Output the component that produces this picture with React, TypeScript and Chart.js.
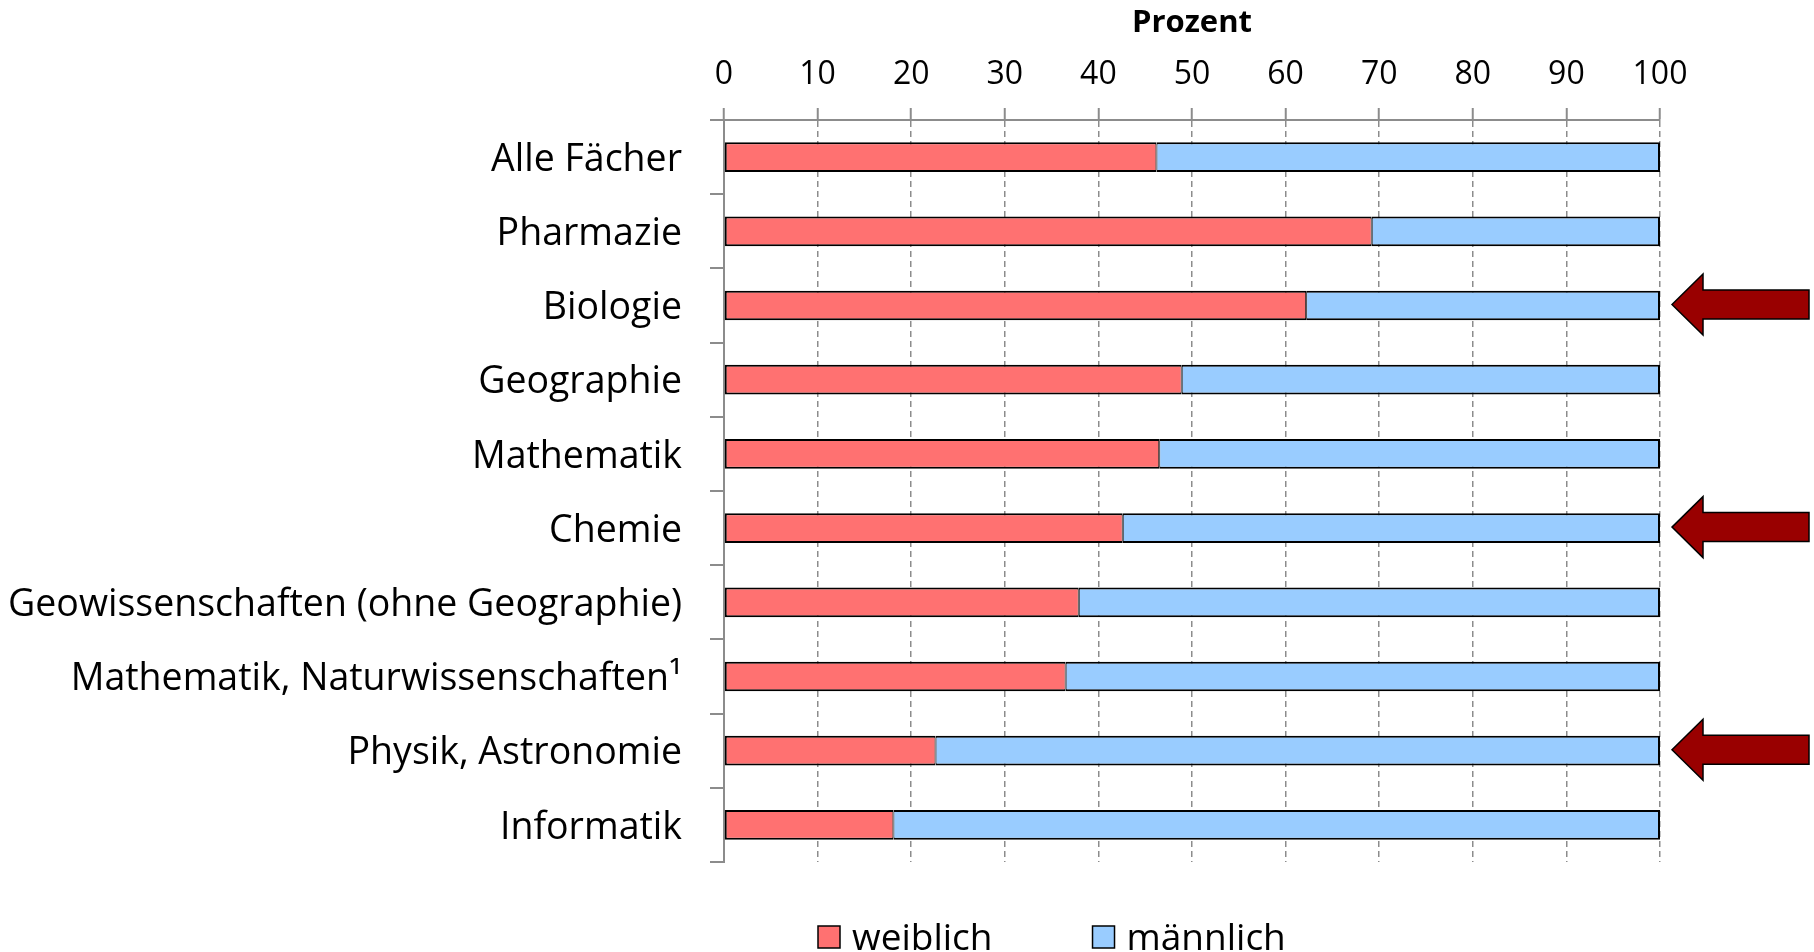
import { useEffect, useRef } from "react";
import { Chart, registerables } from "chart.js";

Chart.register(...registerables);

const categories = [
  "Alle Fächer",
  "Pharmazie",
  "Biologie",
  "Geographie",
  "Mathematik",
  "Chemie",
  "Geowissenschaften (ohne Geographie)",
  "Mathematik, Naturwissenschaften¹",
  "Physik, Astronomie",
  "Informatik",
];
const weiblich = [46.2, 69.2, 62.2, 48.9, 46.5, 42.6, 37.9, 36.5, 22.6, 18.1];
const maennlich = [53.8, 30.8, 37.8, 51.1, 53.5, 57.4, 62.1, 63.5, 77.4, 81.9];
const highlighted = ["Biologie", "Chemie", "Physik, Astronomie"];
const axisTitle = "Prozent";
const seriesNames = ["weiblich", "männlich"];

const FONT = "'Open Sans', 'Noto Sans', sans-serif";
const RED = "#FF7171";
const BLUE = "#99CCFF";
const GRID = "#8c8c8c";

const arrowPlugin = {
  id: "arrows",
  afterDraw(chart: any) {
    const { ctx, chartArea, scales } = chart;
    const y = scales.y;
    const R = chartArea.right;
    ctx.save();
    highlighted.forEach((name) => {
      const i = categories.indexOf(name);
      if (i < 0) return;
      const cy = y.getPixelForValue(i) - 1;
      ctx.beginPath();
      ctx.moveTo(R + 12, cy);
      ctx.lineTo(R + 43, cy - 30.5);
      ctx.lineTo(R + 43, cy - 14.5);
      ctx.lineTo(R + 149, cy - 14.5);
      ctx.lineTo(R + 149, cy + 14.5);
      ctx.lineTo(R + 43, cy + 14.5);
      ctx.lineTo(R + 43, cy + 30.5);
      ctx.closePath();
      ctx.fillStyle = "#990000";
      ctx.fill();
      ctx.lineWidth = 1.5;
      ctx.strokeStyle = "#000";
      ctx.lineJoin = "miter";
      ctx.stroke();
    });
    ctx.restore();
  },
};

const legendPlugin = {
  id: "customLegend",
  afterDraw(chart: any) {
    const { ctx } = chart;
    const cy = 939;
    const box = 22;
    let x = 818;
    ctx.save();
    ctx.font = `37px ${FONT}`;
    ctx.textBaseline = "middle";
    ctx.textAlign = "left";
    chart.data.datasets.forEach((ds: any) => {
      ctx.fillStyle = ds.backgroundColor;
      ctx.fillRect(x, cy - box / 2 - 2, box, box);
      ctx.lineWidth = 1.5;
      ctx.strokeStyle = "#000";
      ctx.strokeRect(x, cy - box / 2 - 2, box, box);
      ctx.fillStyle = "#000";
      ctx.fillText(ds.label, x + box + 12, cy);
      const w = ctx.measureText(ds.label).width;
      x += box + 12 + w + 100;
    });
    ctx.restore();
  },
};

export default function App() {
  const ref = useRef<HTMLCanvasElement>(null);
  useEffect(() => {
    document.body.style.margin = "0";
    const chart = new Chart(ref.current as HTMLCanvasElement, {
      type: "bar",
      data: {
        labels: categories,
        datasets: [
          {
            label: seriesNames[0],
            data: weiblich,
            backgroundColor: RED,
            borderColor: "#000",
            borderWidth: { top: 2, bottom: 2, left: 2, right: 1 },
            borderSkipped: false,
            categoryPercentage: 1,
            barPercentage: 0.4,
          },
          {
            label: seriesNames[1],
            data: maennlich,
            backgroundColor: BLUE,
            borderColor: "#000",
            borderWidth: { top: 2, bottom: 2, left: 1, right: 2 },
            borderSkipped: false,
            categoryPercentage: 1,
            barPercentage: 0.4,
          },
        ],
      },
      options: {
        indexAxis: "y",
        animation: false,
        responsive: false,
        layout: { padding: { top: 0, right: 154, bottom: 90, left: 0 } },
        plugins: {
          legend: { display: false },
          tooltip: { enabled: false },
        },
        scales: {
          x: {
            position: "top",
            stacked: true,
            min: 0,
            max: 100,
            ticks: {
              stepSize: 10,
              color: "#000",
              font: { family: FONT, size: 32 },
              padding: 14,
            },
            grid: {
              color: GRID,
              lineWidth: 1.5,
              tickLength: 12,
              tickWidth: 2,
              tickColor: GRID,
              drawTicks: true,
            },
            border: { display: true, color: GRID, width: 2, dash: [6, 4] },
            title: {
              display: true,
              text: axisTitle,
              color: "#000",
              font: { family: FONT, size: 31, weight: "bold" },
              padding: { top: 5, bottom: 0 },
            },
            afterFit: (s: any) => {
              s.height = 120;
            },
          },
          y: {
            stacked: true,
            ticks: {
              color: "#000",
              font: { family: FONT, size: 37.5 },
              padding: 28,
              labelOffset: 3,
            },
            grid: {
              offset: true,
              drawOnChartArea: false,
              drawTicks: true,
              tickLength: 14,
              color: GRID,
              lineWidth: 2,
            },
            border: { display: true, color: GRID, width: 2 },
            afterFit: (s: any) => {
              s.width = 724;
            },
          },
        },
      } as any,
      plugins: [arrowPlugin, legendPlugin],
    });
    return () => chart.destroy();
  }, []);
  return (
    <div style={{ width: 1814, height: 952 }}>
      <canvas ref={ref} width={1814} height={952} />
    </div>
  );
}
